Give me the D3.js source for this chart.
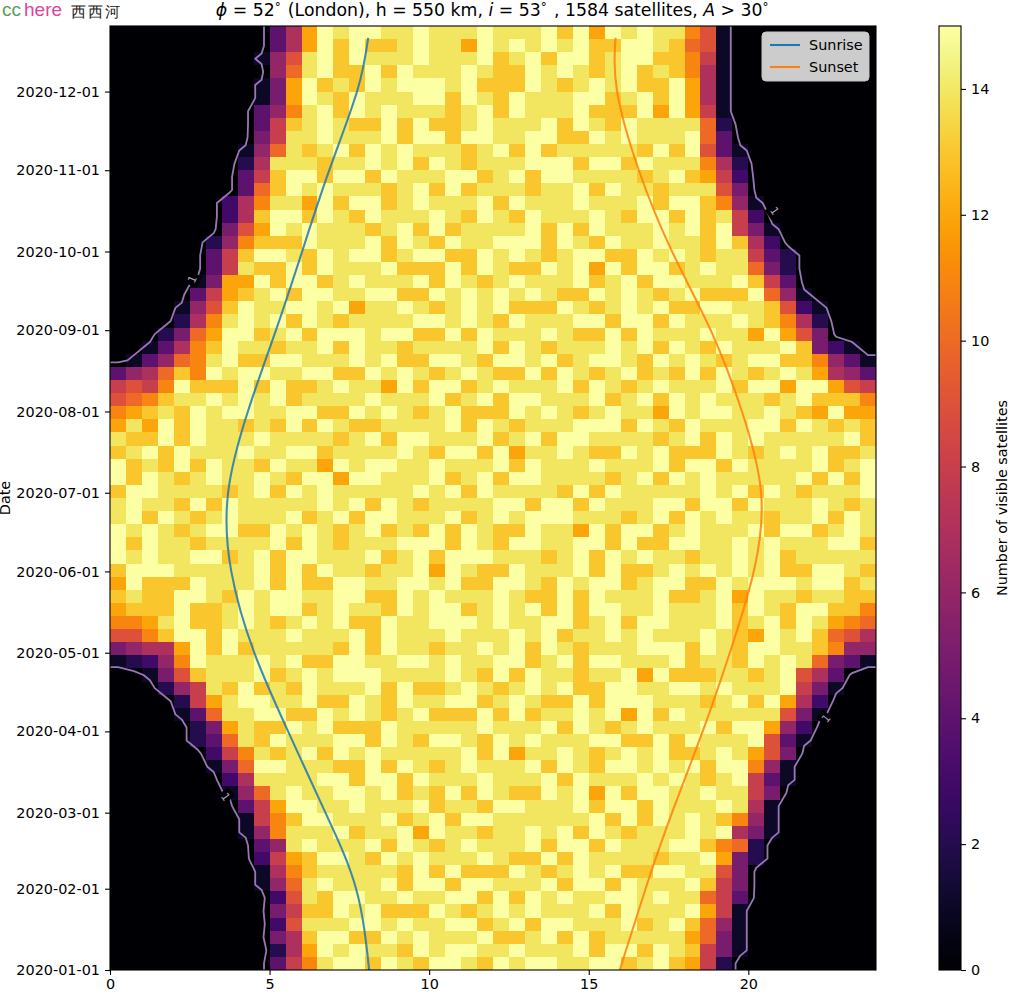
<!DOCTYPE html>
<html><head><meta charset="utf-8">
<script src="https://cdn.jsdelivr.net/npm/d3@7/dist/d3.min.js"></script>
<style>
html,body{margin:0;padding:0;background:#fff}
svg{display:block}
text{font-family:"DejaVu Sans",sans-serif}
</style></head><body><div id="c"></div>
<script>
// Visible satellites per 30-minute / 5-day bin, as hex digits; first string = latest dates
const countsMorning = [
"000000000047cfeffeefeeef","000000000047cfdfddefeecf","000000000169efdfeeefeeef","00000000006aefddfdfeeefe",
"00000000015cfdedfefffefd","00000000015cfedfeeeffdfe","00000000046befdfefeeedef","00000000048defeddfdfddef",
"00000000058eefeeefdffdff","0000000016aedefdfefeeede","0000000027eeedeefefdfede","0000000048dffdffdfeeeffd",
"000000004adfefeeedefdfde","000000037beecfdffdefeeef","000000037dffdfedfeeefedf","000000059cfefeeedefdfdee",
"00000026bdddfeeefdfedfee","00000048dffedfeffdeffddf","00000048eddfdfeeefdddfdf","0000015ccfdffdefeeefdfed",
"0000048cdefdffeeffddfefe","0000169dfeeffefceefedefe","000027befefdfedeeeeffefe","00025acffdefdfffeffddfdf",
"00147bdfeedeefdfeedeeeef","0146abefddffeeefefddffed","467adbfeffeeffddfefedefe","898bfdddfdfddefeecfdffde",
"9abdeefefefdeeeefeeefdef","bcdedfeffeeffddfefedefdd","cecfdfeededfdfeddeeeefdf","eddfdfeeefeeeedefdffeeef",
"defdfeeefeeffdeeeefedffd","fdedfdfeedfeecfeffeefeee","fdfedefeefedffcffeeefdef","dffeeeedefdfefeeeeefefdf",
"efeedfdfeeeeefefdfedeeee","efdfedefeeefdefdffeeefde","fefedeffddfefedefdedfdfe","fdfeedeeeefdfedeeefffdfe",
"fefeeffdefdffeeefdefdfff","dfffeeeeefdfdfeedeefcfed","cfdddfeeefdfddffeeffefdd","deddffedfeffeeffddfefeee",
"cdddfddefeffdefeedfeffde","bbcefddefedefefddfeefffe","99bdffdfeeefeeefdfeeefee","5677cfdfdeeeeedfdfeedeef",
"1236bfeeefefddffeeffefee","00159deeefdefefffeeeefed","000268edfdedfeeefdfddefe","000028ceffeefddfedfeeffd",
"000014aeeffddfefedefdddf","0000025ceddfefdddfeeeeef","0000024aedfeeeffdfedffed","00000038bedefdfefeeeeefd",
"00000015affeeeddfdfedefe","000000037eeeeffdffdfeeef","000000016aefeeffefdedfdf","0000000048cffeefeeefdeed",
"0000000018bdffeeefdefdff","0000000016beeefdeefcfeed","00000000046efeeefdfedefe","00000000038cdffedfefeeef",
"00000000017bdeeeeedfdfdd","00000000016aefeeefdffdff","000000000039edffeefeeffd","000000000058ddfefdddfede",
"000000000039eeeffefeeffd","000000000057dffddfefeeef","000000000027cfefeedfeffe","000000000048beffdfedffed"];
const countsEvening = [
"eeefdfcfefeeb91000000000","efefefddffeda91000000000","defdffdeffddb81000000000","ddfefedefdedb71000000000",
"ddfedefefddfc71000000000","dfeeeffdefdfc71000000000","dfeeefdddfcfc81000000000","eeefdfedfeeeea2000000000",
"eeffddfefeeefa4000000000","fdfdeeeeedfdf94100000000","eefffdffdfeeeb7200000000","efdffeeeedefdc8300000000",
"eedeefdfeedeee9500000000","dfeeefeeefdffdb610000000","edfeeefedffdfde830000000","eefdfdfeeefefdf851000000",
"fffdfedfeefeedfd73000000","efedeffddfefedee84200000","eddfefcfdffdefeea5200000","efeeefdefdffeeefd8400000",
"fefeddfefedefdddfa610000","fdddfedefefddffeed931000","dfeeeffdffdfeeefedb72000","eeefeddfdfeeefeecfc95000",
"dfedeeefefdfedfeeefd5310","ffefdeffedfefedeffddb641","ddfdfedefdedfdfedefec764","feeefdfedefeeefdffcffc98",
"dffeeefdefdfefeeedefdddb","dfefedefeecfeffeefedcfcc","edeeefffdfedfeeeffdfeded","defdffeeeedefdfefeeeeefd",
"fceefeddfefdddfedefefdde","fdfeeefeeefdffdfeeeefdef","dffeeeedefdfefeeeeefdfdf","eeeedfdfeeeeefefdfedeeef",
"ffdffdfeeeffdffdfeeefede","fefffeeedefdfefeedeefdfe","ddfeecfdffdefeeefdffdefe","dffeeffdfddffeefefeeeffd",
"eeedefdfefeedeefefdeeeee","dfeeefdfddefefefefddffed","ffedfeffdeffddfefffeffde","feddfdfeeefddefcfeedeedd",
"fefdfdffeefeeefdfedffddb","feeffdefdffeeefdefdfecba","efefdeefefeeefedcfefda97","efdfedeeefffdfedffeedb66",
"ffdefdffeeefdeedfefea541","fdfeedeefcfdddeedef97400","defefddffeeffefeeef85100","efeddfdfffeeedefdfc73000",
"dfdeefefcfdfeeeeee951000","eeefdfedefeeefdffc630000","fefeeeffddfdfeeef9410000","fceefedefefddefec9500000",
"eefdfedffefefdffb6100000","eeefdfeeefefedef84100000","eddfefcfdffeefee85000000","ffeeefdffdfeeefe71000000",
"eeeeeefdfdfefedb61000000","eefefdfedeeefef751000000","eefdffdfeeeffdba20000000","eddfdfeeeedeefc520000000",
"dfedefefddffee9500000000","eeefdffdfeeefd8500000000","fdfefeeffefeea8400000000","fefeeefdfeeefc8100000000",
"efdffeeefdefda6100000000","ddefdfdeeeeeca5100000000","efeeefdffdfed85100000000","feffeeffdefdc82000000000"];

const sunDays = [0,31,60,91,121,152,182,213,244,274,305,335,355.5];
const sunriseHours = [8.12,7.71,6.75,5.58,4.52,3.80,3.70,4.32,5.20,6.02,6.87,7.74,8.09];
const sunsetHours = [15.97,16.78,17.61,18.57,19.42,20.17,20.40,19.80,18.82,17.61,16.57,15.89,15.84];
const hourTicks = [0,5,10,15,20];
const dateTicks = ["2020-01-01","2020-02-01","2020-03-01","2020-04-01","2020-05-01","2020-06-01","2020-07-01","2020-08-01","2020-09-01","2020-10-01","2020-11-01","2020-12-01"];
const colorTicks = [0,2,4,6,8,10,12,14];
const contourLevel = [0.6]; // digits above are rounded; this traces the reference's level-1 line
const contourLabelHours = [2.57,20.83,22.43,3.63];
const contourLabelDays = [263.5,289.5,96,66];
const contourLabelAngles = [-65,55,-50,55];
const legendNames = ["Sunrise","Sunset"];
const seriesColors = ["#1f77b4","#ff7f0e"];

const W=1024,H=1000,L=110,R=876,T=26,B=970,CL=939,CR=961,FS=14.4;
const DAY=864e5, t0=Date.UTC(2020,0,1);
const dayDate=d=>new Date(t0+d*DAY);
const x=d3.scaleLinear().domain([0,24]).range([L,R]);
const y=d3.scaleUtc().domain([dayDate(0),dayDate(360)]).range([B,T]);
const color=d3.scaleSequential(d3.interpolateInferno).domain([0,15]);
const cbar=d3.scaleLinear().domain([0,15]).range([B,T]);

const rows=countsMorning.map((m,i)=>{
  const s=m+countsEvening[i];
  if(s.length!==48) console.error("bad row "+i+" "+s.length);
  return Array.from(s,c=>parseInt(c,16));
});
const nC=48,nR=rows.length;

const svg=d3.select("#c").append("svg").attr("width",W).attr("height",H);
svg.append("rect").attr("width",W).attr("height",H).attr("fill","#fff");
const defs=svg.append("defs");
defs.append("clipPath").attr("id","ax").append("rect").attr("x",L).attr("y",T).attr("width",R-L).attr("height",B-T);
const grad=defs.append("linearGradient").attr("id","cg").attr("x1",0).attr("x2",0).attr("y1",1).attr("y2",0);
d3.range(0,1.0001,1/32).forEach(t=>grad.append("stop").attr("offset",t).attr("stop-color",d3.interpolateInferno(t)));

// heat cells
const cells=[];
rows.forEach((r,ri)=>r.forEach((v,ci)=>cells.push({ri,ci,v})));
svg.append("g").attr("shape-rendering","crispEdges").selectAll("rect").data(cells).join("rect")
  .attr("x",d=>x(d.ci/2)).attr("width",d=>x((d.ci+1)/2)-x(d.ci/2))
  .attr("y",d=>y(dayDate(360-d.ri*5))).attr("height",d=>y(dayDate(360-(d.ri+1)*5))-y(dayDate(360-d.ri*5)))
  .attr("fill",d=>color(d.v));

// contour, on a grid padded by one cell so it runs out to the frame
const pw=nC+2,ph=nR+2,flat=new Array(pw*ph);
for(let j=0;j<ph;j++)for(let i=0;i<pw;i++){
  flat[j*pw+i]=rows[Math.min(nR-1,Math.max(0,j-1))][Math.min(nC-1,Math.max(0,i-1))];
}
const cont=d3.contours().size([pw,ph]).smooth(true).thresholds(contourLevel)(flat);
const proj=d3.geoTransform({point(px,py){
  this.stream.point(x((px-1)/2), y(dayDate(360-(py-1)*5)));
}});
const gA=svg.append("g").attr("clip-path","url(#ax)");
gA.selectAll("path.c").data(cont).join("path").attr("class","c")
  .attr("d",d3.geoPath(proj)).attr("fill","none").attr("stroke","#9878b4").attr("stroke-width",1.8).attr("stroke-linejoin","round");
contourLabelHours.forEach((h,i)=>{
  const px=x(h),py=y(dayDate(contourLabelDays[i]));
  gA.append("text").attr("transform",`translate(${px},${py}) rotate(${contourLabelAngles[i]})`)
    .attr("text-anchor","middle").attr("dy","0.36em").attr("font-size",11)
    .attr("fill","#b0a0c4").attr("stroke","#000004").attr("stroke-width",8).attr("paint-order","stroke")
    .text("1");
});

// sunrise and sunset
const line=d3.line().x(d=>x(d[1])).y(d=>y(dayDate(d[0]))).curve(d3.curveNatural);
[sunriseHours,sunsetHours].forEach((s,i)=>{
  gA.append("path").attr("d",line(d3.zip(sunDays,s))).attr("fill","none")
    .attr("stroke",seriesColors[i]).attr("stroke-width",2.08).attr("stroke-opacity",0.85);
});

// frame and axes
svg.append("rect").attr("x",L).attr("y",T).attr("width",R-L).attr("height",B-T).attr("fill","none").attr("stroke","#000").attr("stroke-width",1.1);
function styleAxis(g){
  g.select(".domain").remove();
  g.selectAll("line").attr("stroke","#000").attr("stroke-width",1.1);
  g.selectAll("text").attr("font-size",FS).attr("font-family",'"DejaVu Sans"').attr("fill","#000");
}
svg.append("g").attr("transform",`translate(0,${B})`)
  .call(d3.axisBottom(x).tickValues(hourTicks).tickFormat(d3.format("d")).tickSize(5).tickPadding(4)).call(styleAxis);
const parse=d3.utcParse("%Y-%m-%d");
svg.append("g").attr("transform",`translate(${L},0)`)
  .call(d3.axisLeft(y).tickValues(dateTicks.map(parse)).tickFormat(d3.utcFormat("%Y-%m-%d")).tickSize(5).tickPadding(5)).call(styleAxis);
svg.append("text").attr("transform","translate(10,498) rotate(-90)").attr("text-anchor","middle").attr("font-size",FS).text("Date");

// colorbar
svg.append("rect").attr("x",CL).attr("y",T).attr("width",CR-CL).attr("height",B-T).attr("fill","url(#cg)").attr("stroke","#000").attr("stroke-width",1.1);
svg.append("g").attr("transform",`translate(${CR},0)`)
  .call(d3.axisRight(cbar).tickValues(colorTicks).tickFormat(d3.format("d")).tickSize(5).tickPadding(5)).call(styleAxis);
svg.append("text").attr("transform","translate(1002,498) rotate(-90)").attr("dy","0.36em").attr("text-anchor","middle").attr("font-size",FS).text("Number of visible satellites");

// legend
const lg=svg.append("g");
lg.append("rect").attr("x",762).attr("y",32).attr("width",107).attr("height",49).attr("rx",4).attr("fill","#cccccc").attr("stroke","#c4c4c4");
legendNames.forEach((n,i)=>{
  const ly=45+i*22;
  lg.append("line").attr("x1",770).attr("x2",800).attr("y1",ly).attr("y2",ly).attr("stroke",seriesColors[i]).attr("stroke-width",2.08);
  lg.append("text").attr("x",809).attr("y",ly).attr("dy","0.36em").attr("font-size",FS).attr("fill","#000").text(n);
});

// title
const title=svg.append("text").attr("x",493).attr("y",16).attr("text-anchor","middle").attr("font-size",17.3).attr("fill","#000");
const it=s=>title.append("tspan").attr("font-style","italic").text(s);
const pl=s=>title.append("tspan").text(s);
const sup=s=>{title.append("tspan").attr("dy",-5).attr("font-size",12).text(s);title.append("tspan").attr("dy",5).text("\u200a");};
it("\u03d5");pl(" = 52");sup("\u00b0");pl(" (London), h = 550 km, ");it("i");pl(" = 53");sup("\u00b0");pl(" , 1584 satellites, ");it("A");pl(" > 30");sup("\u00b0");

// watermark
const wm=svg.append("text").attr("y",16);
wm.append("tspan").attr("x",2).attr("font-size",19).attr("font-family","'Liberation Sans'").attr("fill","#5a9e5a").text("cc");
wm.append("tspan").attr("x",24).attr("font-size",19).attr("font-family","'Liberation Sans'").attr("fill","#e0439b").text("here");
svg.append("text").attr("x",71).attr("y",17.4).attr("font-family","'Noto Sans CJK SC'").attr("font-size",15).attr("letter-spacing",2).attr("fill","#222").text("西西河");
</script></body></html>
